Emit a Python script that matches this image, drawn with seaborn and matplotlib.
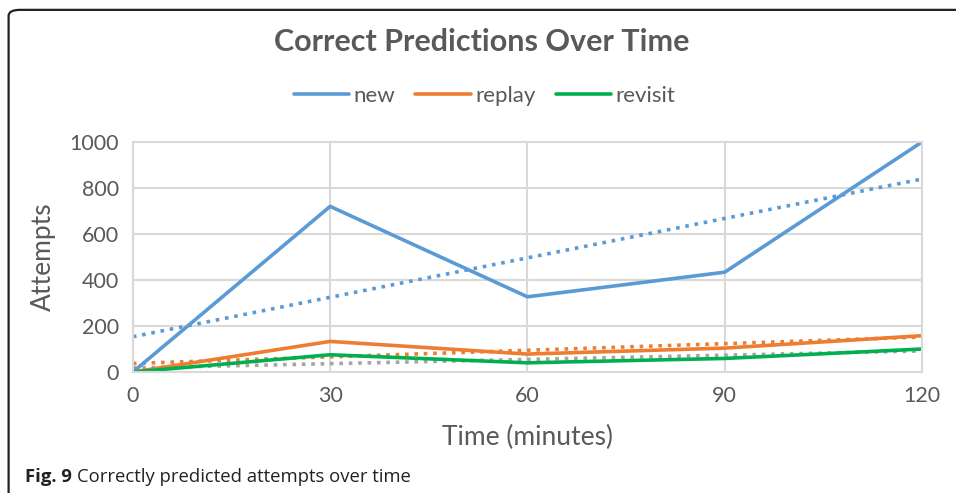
import numpy as np
import pandas as pd
import matplotlib.pyplot as plt
import seaborn as sns
from matplotlib.patches import FancyBboxPatch
from matplotlib.lines import Line2D

# values
minutes = [0, 30, 60, 90, 120]
new_counts = [0, 720, 327, 434, 1000]
replay_counts = [0, 133, 78, 104, 158]
revisit_counts = [0, 75, 40, 59, 100]

series_names = ['new', 'replay', 'revisit']
line_colors = ['#5B9BD5', '#ED7D31', '#00B050']
trend_colors = ['#5B9BD5', '#ED7D31', '#A5A5A5']

df = pd.DataFrame({
    'minutes': minutes * 3,
    'attempts': new_counts + replay_counts + revisit_counts,
    'series': [s for s in series_names for _ in minutes],
})

sns.set_style('white')
plt.rcParams['font.family'] = ['Lato', 'DejaVu Sans']

fig = plt.figure(figsize=(9.56, 4.93), dpi=100)
ax = fig.add_axes([0.139, 0.2454, 0.8254, 0.4666])

# dotted linear trendlines
for name, tcol in zip(series_names, trend_colors):
    sub = df[df['series'] == name]
    sns.regplot(data=sub, x='minutes', y='attempts', ax=ax, scatter=False, ci=None,
                truncate=True,
                line_kws={'color': tcol, 'linestyle': (0, (1, 1.6)), 'linewidth': 2.6})

sns.lineplot(data=df, x='minutes', y='attempts', hue='series', palette=line_colors,
             hue_order=series_names, linewidth=2.6, ax=ax, legend=False)

ax.set_xlim(0, 120)
ax.set_ylim(0, 1000)
ax.set_xticks(minutes)
ax.set_yticks(range(0, 1001, 200))
ax.grid(True, color='#D9D9D9', linewidth=1.5)
for sp in ax.spines.values():
    sp.set_color('#D9D9D9')
    sp.set_linewidth(1.5)
ax.tick_params(axis='both', length=0, labelsize=15.5, labelcolor='#595959', pad=10)
ax.set_xlabel('Time (minutes)', fontsize=19, color='#595959', labelpad=14)
ax.set_ylabel('Attempts', fontsize=19, color='#595959', labelpad=10)

fig.text(0.504, 0.915, 'Correct Predictions Over Time', ha='center', va='center',
         fontsize=22, fontweight='bold', color='#595959')

handles = [Line2D([0], [0], color=c, linewidth=2.6) for c in line_colors]
fig.legend(handles, series_names, loc='center', bbox_to_anchor=(0.507, 0.806), ncol=3,
           frameon=False, fontsize=16, handlelength=2.5, handletextpad=0.2,
           columnspacing=0.9, labelcolor='#595959')

# outer frame, open at right and bottom
frame = FancyBboxPatch((0.009, -0.05), 1.05, 1.03, boxstyle='round,pad=0,rounding_size=0.012',
                       transform=fig.transFigure, fill=False, edgecolor='#222222',
                       linewidth=1.6, clip_on=False)
fig.patches.append(frame)

cap1 = fig.text(0.026, 0.032, 'Fig. 9', fontsize=13.3, fontweight='bold', color='#222222',
                family=['Open Sans', 'DejaVu Sans'], va='center')
fig.canvas.draw()
bb = cap1.get_window_extent().transformed(fig.transFigure.inverted())
fig.text(bb.x1 + 0.006, 0.032, 'Correctly predicted attempts over time', fontsize=13.3,
         color='#222222', family=['Open Sans', 'DejaVu Sans'], va='center')

fig.savefig('out.png', dpi=100)
